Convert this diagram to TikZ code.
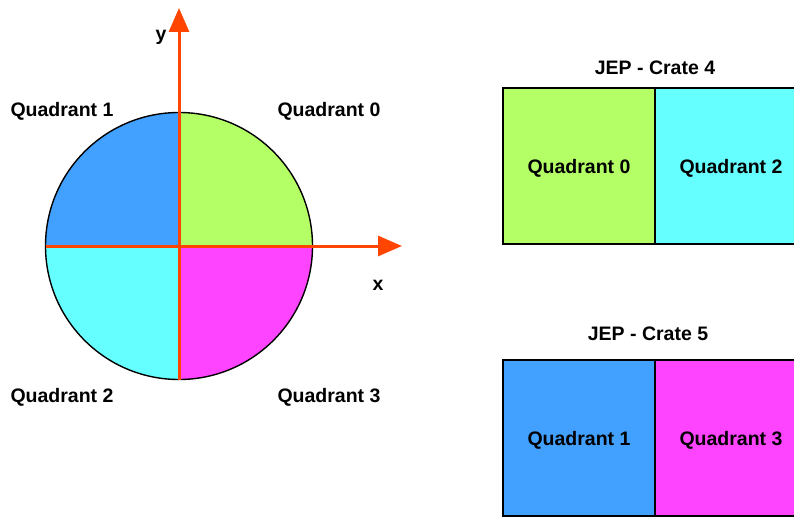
\documentclass[tikz,border=0pt]{standalone}
\usepackage{fontspec}
\setmainfont{Liberation Sans}
\usetikzlibrary{arrows.meta}
\definecolor{qgreen}{RGB}{181,255,102}
\definecolor{qblue}{RGB}{66,160,255}
\definecolor{qcyan}{RGB}{102,255,255}
\definecolor{qmag}{RGB}{255,68,255}
\definecolor{axorange}{RGB}{255,69,0}
\tikzset{
  lbl/.style={font=\fontsize{19.5}{23}\selectfont\bfseries, inner sep=0pt, text height=14pt, text depth=0pt},
  axlbl/.style={font=\fontsize{19.5}{23}\selectfont\bfseries, inner sep=0pt, anchor=base},
  cratebox/.style={draw=black, line width=1.4pt, minimum width=152pt, minimum height=156pt, inner sep=0pt, text height=14pt, text depth=0pt, font=\fontsize{19.5}{23}\selectfont\bfseries},
  axis/.style={draw=axorange, line width=3pt, -{Triangle[length=24pt,width=20pt]}},
}
\begin{document}
\begin{tikzpicture}[x=1pt,y=-1pt]
\useasboundingbox (0,0) rectangle (794,516);
% circle quadrants
\coordinate (c) at (179,246);
\begin{scope}[shift={(179,246)}, x=1pt, y=1pt]
\fill[qgreen] (0,0) -- (133.5,0) arc[start angle=0,end angle=90,radius=133.5] -- cycle;
\fill[qblue] (0,0) -- (0,133.5) arc[start angle=90,end angle=180,radius=133.5] -- cycle;
\fill[qcyan] (0,0) -- (-133.5,0) arc[start angle=180,end angle=270,radius=133.5] -- cycle;
\fill[qmag] (0,0) -- (0,-133.5) arc[start angle=270,end angle=360,radius=133.5] -- cycle;
\end{scope}
\draw[black, line width=1.4pt] (c) circle[radius=133.5];
% axes
\coordinate (xstart) at (45.5,246);
\coordinate (xend) at (402,246);
\coordinate (ystart) at (179,380);
\coordinate (yend) at (179,8);
\draw[axis] (xstart) -- (xend);
\draw[axis] (ystart) -- (yend);
\node[axlbl] (ylbl) at (161,41) {y};
\node[axlbl] (xlbl) at (378,290) {x};
% quadrant labels
\node[lbl] (q1) at (62,110) {Quadrant 1};
\node[lbl] (q0) at (329,110) {Quadrant 0};
\node[lbl] (q2) at (62,395) {Quadrant 2};
\node[lbl] (q3) at (329,395) {Quadrant 3};
% crates
\node[lbl] (c4) at (655,68) {JEP - Crate 4};
\node[cratebox, fill=qgreen] (b40) at (579,166) {Quadrant 0};
\node[cratebox, fill=qcyan] (b42) at (731,166) {Quadrant 2};
\node[lbl] (c5) at (648,333) {JEP - Crate 5};
\node[cratebox, fill=qblue] (b51) at (579,438) {Quadrant 1};
\node[cratebox, fill=qmag] (b53) at (731,438) {Quadrant 3};
\end{tikzpicture}
\end{document}
